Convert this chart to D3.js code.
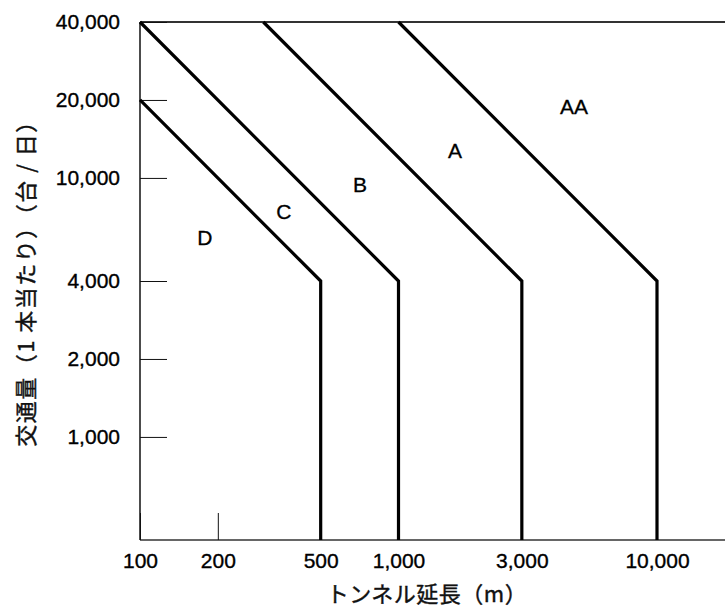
<!DOCTYPE html>
<html>
<head>
<meta charset="utf-8">
<script src="https://cdn.jsdelivr.net/npm/d3@7"></script>
<style>
  html, body { margin: 0; padding: 0; background: #fff; }
  svg { display: block; }
</style>
</head>
<body>
<script>
// ---- data ----
const xTicks = [100, 200, 500, 1000, 3000, 10000];
const yTicks = [1000, 2000, 4000, 10000, 20000, 40000];
const boundaryD = [[100, 20000], [500, 4000], [500, 400]];
const boundaryC = [[100, 40000], [1000, 4000], [1000, 400]];
const boundaryB = [[300, 40000], [3000, 4000], [3000, 400]];
const boundaryA = [[1000, 40000], [10000, 4000], [10000, 400]];
const regionLabels = ["D", "C", "B", "A", "AA"];
const regionLabelX = [178, 360, 710, 1655, 4780];
const regionLabelY = [5900, 7450, 9480, 12800, 18800];
const xTitle = "トンネル延長（m）";
const yTitle = "交通量（1 本当たり）（台 / 日）";

// ---- layout ----
const W = 725, H = 608;
const mLeft = 140, mTop = 22, mBottom = 540;

const svg = d3.select("body").append("svg").attr("width", W).attr("height", H);

const x = d3.scaleLog().domain([100, 10000]).range([mLeft, 657]);
const y = d3.scaleLog().domain([400, 40000]).range([mBottom, mTop]);

const fmt = d3.format(",");
const tickFont = "'Liberation Sans', Arial, sans-serif";

// frame
const frame = svg.append("g").attr("stroke", "#333").attr("fill", "none");
frame.append("line").attr("x1", mLeft).attr("x2", W).attr("y1", mTop).attr("y2", mTop).attr("stroke-width", 2);
frame.append("line").attr("x1", mLeft).attr("x2", W).attr("y1", mBottom).attr("y2", mBottom).attr("stroke-width", 1.5);
frame.append("line").attr("x1", mLeft).attr("x2", mLeft).attr("y1", mTop).attr("y2", mBottom).attr("stroke-width", 1.5).attr("stroke", "#111");

// y axis
const yAxis = svg.append("g").attr("transform", `translate(${mLeft},0)`)
  .call(d3.axisLeft(y).tickValues(yTicks).tickFormat(fmt).tickSize(-27).tickSizeOuter(0).tickPadding(20));
yAxis.select(".domain").remove();
yAxis.selectAll(".tick line").attr("stroke", "#111").attr("stroke-width", 1);
yAxis.selectAll(".tick text").attr("font-family", tickFont).attr("font-size", 21).attr("fill", "#000")
  .attr("stroke", "#000").attr("stroke-width", 0.35);

// x axis
const xAxis = svg.append("g").attr("transform", `translate(0,${mBottom})`)
  .call(d3.axisBottom(x).tickValues(xTicks).tickFormat(fmt).tickSize(-27).tickSizeOuter(0).tickPadding(13));
xAxis.select(".domain").remove();
xAxis.selectAll(".tick line").attr("stroke", "#111").attr("stroke-width", 1);
xAxis.selectAll(".tick text").attr("font-family", tickFont).attr("font-size", 21).attr("fill", "#000")
  .attr("stroke", "#000").attr("stroke-width", 0.35);

// boundary lines
const boundaries = [boundaryD, boundaryC, boundaryB, boundaryA];
const line = d3.line().x(d => x(d[0])).y(d => y(d[1]));
svg.append("g").selectAll("path").data(boundaries).join("path")
  .attr("d", line)
  .attr("fill", "none")
  .attr("stroke", "#000")
  .attr("stroke-width", 3.2)
  .attr("stroke-linejoin", "miter");

// region labels
svg.append("g").selectAll("text").data(regionLabels).join("text")
  .attr("x", (d, i) => x(regionLabelX[i]))
  .attr("y", (d, i) => y(regionLabelY[i]))
  .attr("dy", "0.36em")
  .attr("text-anchor", "middle")
  .attr("font-family", tickFont)
  .attr("font-size", 21)
  .attr("fill", "#000")
  .attr("stroke", "#000").attr("stroke-width", 0.3)
  .text(d => d);

// axis titles
svg.append("text")
  .attr("x", 427).attr("y", 602)
  .attr("text-anchor", "middle")
  .attr("font-family", "'Noto Sans CJK JP', sans-serif")
  .attr("font-size", 22)
  .attr("letter-spacing", 0.5)
  .attr("fill", "#111")
  .attr("stroke", "#111").attr("stroke-width", 0.4)
  .text(xTitle);

svg.append("text")
  .attr("transform", "translate(34,278) rotate(-90)")
  .attr("text-anchor", "middle")
  .attr("font-family", "'Noto Sans CJK JP', sans-serif")
  .attr("font-size", 22)
  .attr("letter-spacing", 1.5)
  .attr("fill", "#111")
  .attr("stroke", "#111").attr("stroke-width", 0.4)
  .text(yTitle);
</script>
</body>
</html>
